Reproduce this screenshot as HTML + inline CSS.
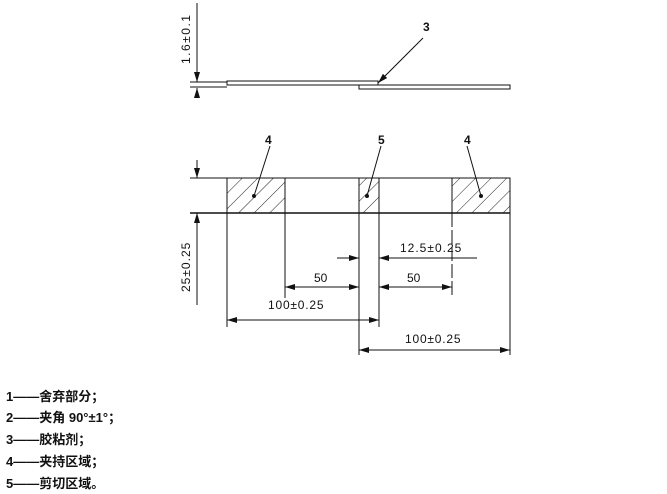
<!DOCTYPE html><html><head><meta charset="utf-8"><style>body{margin:0;background:#fff}svg{display:block}text{font-family:"Liberation Sans","Noto Sans CJK SC",sans-serif;fill:#111}</style></head><body>
<svg width="667" height="494" viewBox="0 0 667 494" xmlns="http://www.w3.org/2000/svg">
<defs>
<pattern id="h" width="11" height="11" patternUnits="userSpaceOnUse" patternTransform="rotate(45)"><line x1="0" y1="0" x2="0" y2="11" stroke="#222" stroke-width="1"/></pattern>
<marker id="a" viewBox="0 0 10 6" refX="10" refY="3" markerWidth="10" markerHeight="6" orient="auto-start-reverse" markerUnits="userSpaceOnUse"><path d="M0,0L10,3L0,6z" fill="#111"/></marker>
</defs>
<g stroke="#111" stroke-width="1" fill="none">
<line x1="197" y1="3" x2="197" y2="82" marker-end="url(#a)"/>
<line x1="197" y1="98" x2="197" y2="88" marker-end="url(#a)"/>
<line x1="190" y1="82" x2="227" y2="82"/><line x1="190" y1="87" x2="227" y2="87"/>
<rect x="227" y="81" width="151" height="4"/>
<rect x="359" y="85" width="151" height="4"/>
<line x1="423" y1="38" x2="378" y2="83" marker-end="url(#a)"/>
<line x1="190" y1="178" x2="510" y2="178"/>
<line x1="190" y1="213" x2="510" y2="213" stroke-width="1.5"/>
<rect x="227" y="178" width="58" height="35" fill="url(#h)"/>
<rect x="359" y="178" width="20" height="35" fill="url(#h)"/>
<rect x="452" y="178" width="58" height="35" fill="url(#h)"/>
<line x1="227" y1="178" x2="227" y2="327"/>
<line x1="510" y1="178" x2="510" y2="355"/>
<line x1="285" y1="178" x2="285" y2="213" stroke-dasharray="4,2"/>
<line x1="452" y1="178" x2="452" y2="213" stroke-dasharray="4,2"/>
<line x1="285" y1="213" x2="285" y2="298"/>
<line x1="452" y1="213" x2="452" y2="295" stroke-dasharray="14,3"/>
<line x1="359" y1="178" x2="359" y2="355"/>
<line x1="379" y1="178" x2="379" y2="327"/>
<line x1="197" y1="160" x2="197" y2="178" marker-end="url(#a)"/>
<line x1="197" y1="305" x2="197" y2="213" marker-end="url(#a)"/>
<line x1="337" y1="258" x2="359" y2="258" marker-end="url(#a)"/>
<line x1="477" y1="258" x2="379" y2="258" marker-end="url(#a)"/>
<line x1="285" y1="287" x2="359" y2="287" marker-start="url(#a)" marker-end="url(#a)"/>
<line x1="379" y1="287" x2="452" y2="287" marker-start="url(#a)" marker-end="url(#a)"/>
<line x1="227" y1="320" x2="379" y2="320" marker-start="url(#a)" marker-end="url(#a)"/>
<line x1="359" y1="350" x2="510" y2="350" marker-start="url(#a)" marker-end="url(#a)"/>
<line x1="270" y1="146" x2="254" y2="196"/>
<line x1="381" y1="146" x2="367" y2="196"/>
<line x1="467" y1="146" x2="481" y2="196"/>
</g>
<circle cx="254" cy="196" r="2" fill="#111"/><circle cx="367" cy="196" r="2" fill="#111"/><circle cx="481" cy="196" r="2" fill="#111"/>
<g font-size="12">
<text x="423" y="31" font-weight="bold">3</text>
<text x="265" y="144" font-weight="bold">4</text><text x="378" y="144" font-weight="bold">5</text><text x="464" y="144" font-weight="bold">4</text>
<text transform="translate(190,64) rotate(-90)" letter-spacing="1.5">1.6±0.1</text>
<text transform="translate(190,292) rotate(-90)" letter-spacing="1">25±0.25</text>
<text x="400" y="252" letter-spacing="1">12.5±0.25</text>
<text x="314" y="282">50</text><text x="407" y="282">50</text>
<text x="268" y="309" letter-spacing="0.8">100±0.25</text>
<text x="405" y="343" letter-spacing="0.8">100±0.25</text>
</g>
<g font-size="13" font-weight="bold">
<text x="6" y="401">1——舍弃部分；</text>
<text x="6" y="422">2——夹角 90°±1°；</text>
<text x="6" y="444">3——胶粘剂；</text>
<text x="6" y="466">4——夹持区域；</text>
<text x="6" y="488">5——剪切区域。</text>
</g>
</svg></body></html>
